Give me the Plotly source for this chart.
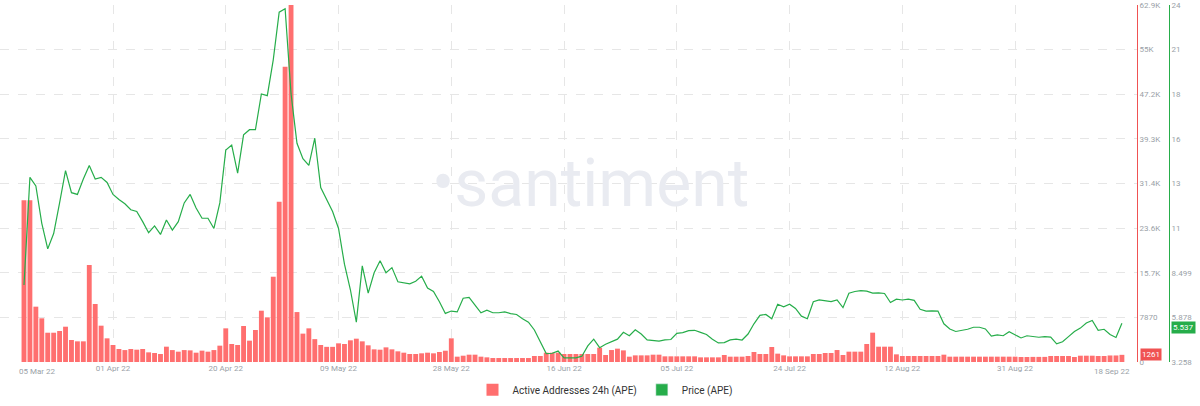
import plotly.graph_objects as go
import pandas as pd

# ---------------- data ----------------
start_date = "2022-03-17"

active_addresses = [
    28500, 28500, 9750, 7700, 5160, 5160, 5460, 6220, 3880, 3640,
    3640, 17090, 10220, 6400, 4170, 3000, 2290, 2100, 2290, 2170,
    2290, 1700, 1590, 1410, 2700, 2100, 1820, 2100, 2050, 1640,
    2000, 1820, 2100, 2880, 5930, 3170, 3000, 6340, 3760, 5640,
    9040, 7870, 15030, 28250, 52030, 62900, 8800, 5000, 5930, 4030,
    3000, 2670, 2670, 3290, 3170, 3820, 4110, 3640, 2940, 2230,
    2170, 2580, 2230, 1880, 1640, 1410, 1410, 1530, 1640, 1530,
    1760, 1990, 4170, 940, 1110, 1290, 1290, 940, 820, 700,
    700, 700, 700, 700, 700, 700, 1060, 1060, 1640, 1640,
    1640, 1410, 1410, 1410, 1410, 1410, 1410, 2520, 1230, 2110,
    2350, 2050, 940, 1170, 1170, 1170, 1290, 1290, 1000, 1000,
    1000, 1000, 1000, 1000, 820, 820, 820, 820, 1230, 940,
    940, 940, 1060, 1760, 1410, 1410, 2640, 1470, 1170, 1000,
    1000, 1000, 1000, 1410, 1410, 1590, 1590, 2110, 1230, 1820,
    1820, 1820, 3170, 5170, 2700, 2700, 2700, 1350, 1060, 1060,
    1060, 1060, 1060, 1060, 1060, 1290, 940, 940, 940, 940,
    940, 940, 940, 940, 940, 940, 940, 940, 880, 880,
    900, 900, 900, 1060, 1060, 1060, 1060, 880, 1110, 1110,
    1110, 1060, 1060, 1150, 1150, 1261,
]

price = [
    7.78, 14.1, 13.6, 11.4, 9.9, 10.8, 12.6, 14.5, 13.2, 13.1,
    14.0, 14.8, 14.0, 14.1, 13.8, 13.1, 12.8, 12.55, 12.2, 12.1,
    11.5, 10.85, 11.25, 10.75, 11.6, 11.0, 11.5, 12.6, 13.1, 12.3,
    11.7, 11.7, 11.1, 12.6, 15.7, 16.0, 14.35, 16.6, 16.9, 16.9,
    19.0, 18.9, 21.0, 23.8, 24.0, 19.0, 16.1, 15.2, 14.8, 16.4,
    13.5, 12.8, 12.1, 11.1, 9.0, 7.5, 5.6, 8.9, 7.3, 8.5,
    9.2, 8.5, 8.8, 7.97, 7.9, 7.85, 8.0, 8.3, 7.6, 7.4,
    6.8, 6.11, 6.25, 6.2, 7.0, 7.05, 6.6, 6.15, 6.3, 6.15,
    6.15, 6.2, 6.1, 6.05, 5.8, 5.6, 5.14, 4.4, 3.75, 3.77,
    3.9, 3.5, 3.5, 3.5, 3.6, 4.2, 4.6, 4.1, 4.3, 4.47,
    4.6, 5.0, 4.8, 5.15, 4.9, 4.56, 4.54, 4.48, 4.56, 4.58,
    4.94, 4.98, 5.1, 5.12, 5.0, 4.87, 4.6, 4.38, 4.4, 4.56,
    4.6, 4.55, 4.9, 5.5, 6.0, 6.05, 5.8, 6.65, 6.5, 6.65,
    6.4, 5.95, 5.8, 6.8, 6.9, 6.85, 6.8, 6.9, 6.45, 7.3,
    7.4, 7.45, 7.42, 7.3, 7.32, 7.28, 6.75, 6.95, 6.9, 6.95,
    6.88, 6.35, 6.25, 6.26, 6.25, 5.5, 5.2, 5.05, 5.12, 5.18,
    5.3, 5.3, 5.2, 4.78, 4.85, 4.8, 5.04, 4.85, 4.67, 4.8,
    4.74, 4.71, 4.75, 4.72, 4.32, 4.45, 4.75, 5.05, 5.25, 5.55,
    5.7, 5.12, 5.18, 4.87, 4.7, 5.537,
]

x_tick_dates = ["2022-04-01", "2022-04-20", "2022-05-09", "2022-05-28", "2022-06-16",
                "2022-07-05", "2022-07-24", "2022-08-12", "2022-08-31"]
x_tick_text = ["01 Apr 22", "20 Apr 22", "09 May 22", "28 May 22", "16 Jun 22",
               "05 Jul 22", "24 Jul 22", "12 Aug 22", "31 Aug 22"]
x_first_label = "05 Mar 22"
x_last_label = "18 Sep 22"

aa_tick_vals = [0, 7864, 15728, 23592, 31456, 39320, 47184, 55048, 62912]
aa_tick_text = ["0", "7870", "15.7K", "23.6K", "31.4K", "39.3K", "47.2K", "55K", "62.9K"]

price_tick_vals = [3.258, 5.8785, 8.499, 11.1195, 13.74, 16.3605, 18.981, 21.6015, 24.222]
price_tick_text = ["3.258", "5.878", "8.499", "11", "13", "16", "18", "21", "24"]

last_aa = "1261"
last_price = "5.537"

# ---------------- style ----------------
RED_BAR = "#ff6f6f"
RED = "#f05252"
GREEN = "#26ad4a"
GRID = "#e6e6e6"
TICK = "#9a9fa7"
FONT = "Roboto, Liberation Sans, Arial, sans-serif"

dates = pd.date_range(start_date, periods=len(active_addresses), freq="D")
price_dates = pd.date_range(start_date, periods=len(price), freq="D")

fig = go.Figure()
fig.add_trace(go.Bar(
    x=dates, y=active_addresses, name="Active Addresses 24h (APE)",
    marker=dict(color=RED_BAR, line=dict(width=0)), yaxis="y",
))
fig.add_trace(go.Scatter(
    x=price_dates, y=price, mode="lines", name="Price (APE)",
    line=dict(color=GREEN, width=1.2), yaxis="y2", showlegend=False,
))
# legend swatch for price (square like the original)
fig.add_trace(go.Bar(
    x=[None], y=[None], name="Price (APE)", marker=dict(color=GREEN), yaxis="y2",
))

W, H = 1200, 406
plot_right_px = 1137
paper_w = 1169
dom_end = plot_right_px / paper_w

fig.update_layout(
    width=W, height=H,
    margin=dict(l=0, r=W - paper_w, t=5, b=44),
    paper_bgcolor="white", plot_bgcolor="white",
    barmode="overlay", bargap=0.18,
    font=dict(family=FONT, size=8, color=TICK),
    xaxis=dict(
        domain=[0, dom_end], type="date",
        range=["2022-03-12 23:00", "2022-09-20 13:00"],
        tickmode="array", tickvals=x_tick_dates, ticktext=x_tick_text,
        showgrid=True, gridcolor=GRID, griddash="dash", gridwidth=1,
        zeroline=False, showline=False, ticks="",
        tickfont=dict(size=8, color=TICK), automargin=False,
    ),
    yaxis=dict(
        side="right", anchor="x", range=[0, 62912],
        tickmode="array", tickvals=aa_tick_vals, ticktext=aa_tick_text,
        showgrid=True, gridcolor=GRID, griddash="dash", gridwidth=1,
        zeroline=False, showline=True, linecolor=RED, linewidth=1,
        ticks="", tickfont=dict(size=8, color=TICK), automargin=False,
    ),
    yaxis2=dict(
        side="right", overlaying="y", anchor="free", position=1.0,
        range=[3.258, 24.222],
        tickmode="array", tickvals=price_tick_vals, ticktext=price_tick_text,
        showgrid=False, zeroline=False, showline=True, linecolor=GREEN, linewidth=1,
        ticks="", tickfont=dict(size=8, color=TICK), automargin=False,
    ),
    legend=dict(
        orientation="h", x=605 / paper_w, xanchor="center",
        y=-0.078, yanchor="middle",
        font=dict(size=10, color="#333333", family=FONT),
        itemwidth=30, tracegroupgap=0, bgcolor="rgba(0,0,0,0)",
    ),
    showlegend=True,
)

annotations = [
    dict(text="\u2022santiment", x=0.505, y=0.5, xref="paper", yref="paper",
         showarrow=False, font=dict(size=66, color="#e9ebf1", family=FONT)),
    dict(text=x_first_label, x=17 / paper_w, y=0, xref="paper", yref="paper",
         yanchor="top", yshift=-3, showarrow=False, font=dict(size=8, color=TICK)),
    dict(text=x_last_label, x=1132 / paper_w, y=0, xref="paper", yref="paper",
         yanchor="top", yshift=-3, showarrow=False, font=dict(size=8, color=TICK)),
    dict(text=last_price, x=1.0, y=float(last_price), xref="paper", yref="y2",
         xanchor="left", yanchor="top", xshift=2, yshift=2, showarrow=False,
         bgcolor=GREEN, borderpad=1, font=dict(size=8, color="white")),
    dict(text=last_aa, x=dom_end, y=int(last_aa), xref="paper", yref="y",
         xanchor="left", yanchor="middle", xshift=3, showarrow=False,
         bgcolor=RED, borderpad=1, font=dict(size=8, color="white")),
]
fig.update_layout(annotations=annotations)

fig.write_html("out.html")
